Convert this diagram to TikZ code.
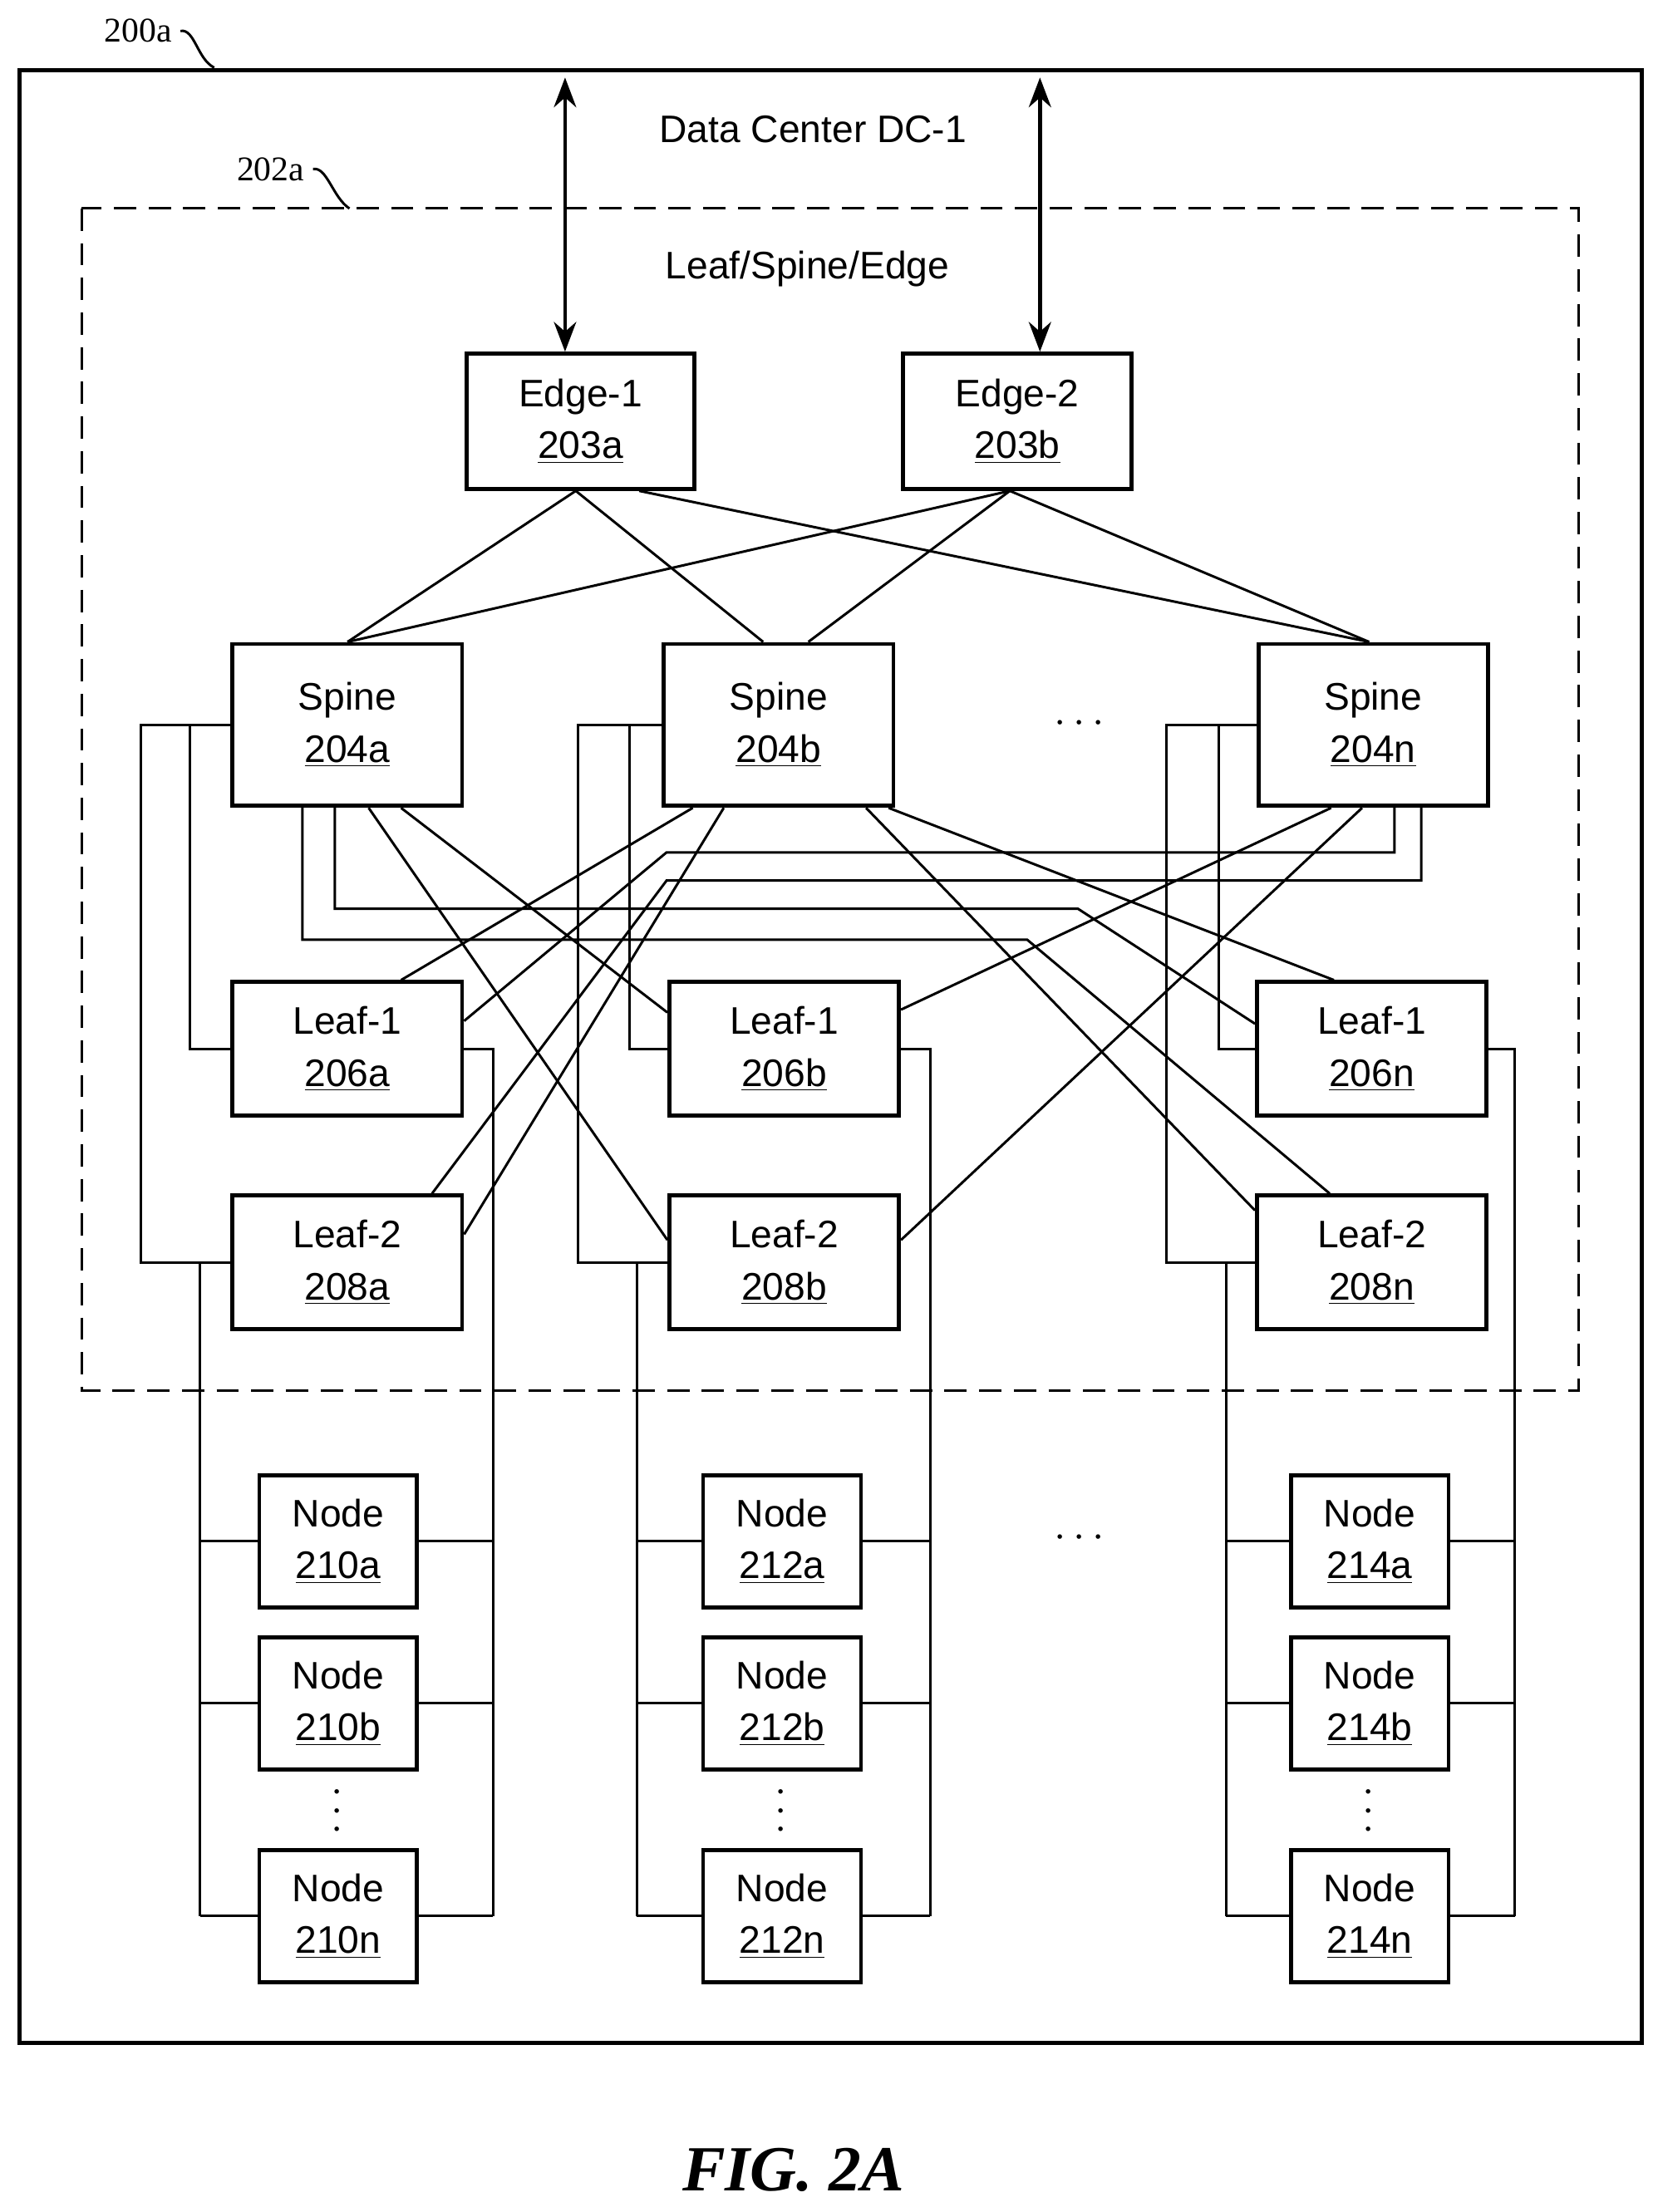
\documentclass[tikz,border=0pt]{standalone}
\usepackage{fontspec}
\setmainfont{Liberation Sans}
\newfontfamily\serifrm{Liberation Serif}
\usetikzlibrary{calc,arrows.meta}

\tikzset{
  box/.style={draw, line width=1.6pt, align=center, inner sep=0pt,
    font=\fontsize{15.5}{21}\selectfont},
  edgebox/.style={box, minimum width=3.24cm, minimum height=1.92cm},
  spinebox/.style={box, minimum width=3.26cm, minimum height=2.3cm},
  leafbox/.style={box, minimum width=3.26cm, minimum height=1.9cm},
  hostbox/.style={box, minimum width=2.24cm, minimum height=1.88cm},
  wire/.style={line width=1pt},
  refnum/.style={font=\serifrm\fontsize{14}{16}\selectfont}
}

\begin{document}
\begin{tikzpicture}[x=0.02cm,y=-0.02cm]
  \useasboundingbox (0,0) rectangle (1180,1570);

  % frames
  \draw[line width=1.6pt] (14,50) rectangle (1165,1450);
  \draw[line width=1pt, dash pattern=on 9pt off 5pt] (58,148) rectangle (1120,987);
  \node[refnum] (r200) at (98,22) {200a};
  \draw[wire] (r200.east) .. controls (138,20) and (140,42) .. (152,48);
  \node[refnum] (r202) at (192,120) {202a};
  \draw[wire] (r202.east) .. controls (232,118) and (236,140) .. (248,148);
  \node[font=\fontsize{15.5}{18}\selectfont] (dc) at (577,92) {Data Center DC-1};
  \node[font=\fontsize{15.5}{18}\selectfont] (lse) at (573,191) {Leaf/Spine/Edge};

  % edge and spine
  \node[edgebox] (e1) at (412,299) {Edge-1\\\underline{203a}};
  \node[edgebox] (e2) at (722,299) {Edge-2\\\underline{203b}};
  \node[spinebox] (sa) at (246.5,514.5) {Spine\\\underline{204a}};
  \node[spinebox] (sb) at (552.5,514.5) {Spine\\\underline{204b}};
  \node[spinebox] (sn) at (974.5,514.5) {Spine\\\underline{204n}};
  \node[font=\fontsize{16}{18}\selectfont] (sdots) at (766,514) {$\cdots$};

  % leaves
  \node[leafbox] (la) at (246.5,744.5) {Leaf-1\\\underline{206a}};
  \node[leafbox] (lb) at (556.5,744.5) {Leaf-1\\\underline{206b}};
  \node[leafbox] (ln) at (973.5,744.5) {Leaf-1\\\underline{206n}};
  \node[leafbox] (ma) at (246.5,896) {Leaf-2\\\underline{208a}};
  \node[leafbox] (mb) at (556.5,896) {Leaf-2\\\underline{208b}};
  \node[leafbox] (mn) at (973.5,896) {Leaf-2\\\underline{208n}};

  % hosts
  \foreach \grp/\xc in {210/240,212/555,214/972}{
    \node[hostbox] (h\grp a) at (\xc,1094) {Node\\\underline{\grp a}};
    \node[hostbox] (h\grp b) at (\xc,1209) {Node\\\underline{\grp b}};
    \node[hostbox] (h\grp n) at (\xc,1360) {Node\\\underline{\grp n}};
    \node[font=\fontsize{16}{18}\selectfont, rotate=90] (hd\grp) at (\xc,1285) {$\cdots$};
  }
  \node[font=\fontsize{16}{18}\selectfont] (hdots) at (766,1092) {$\cdots$};

  % uplinks
  \coordinate (u1) at (401,55);
  \coordinate (u2) at (738,55);
  \draw[wire, line width=1.6pt, {Stealth[length=12pt,width=9pt]}-{Stealth[length=12pt,width=9pt]}] (u1) -- (u1 |- e1.north);
  \draw[wire, line width=1.6pt, {Stealth[length=12pt,width=9pt]}-{Stealth[length=12pt,width=9pt]}] (u2) -- (u2 |- e2.north);

  % edge to spine
  \draw[wire] ($(e1.south west)+(79,0)$) -- ($(sa.north west)+(83,0)$);
  \draw[wire] ($(e1.south west)+(79,0)$) -- ($(sb.north west)+(72,0)$);
  \draw[wire] ($(e1.south west)+(124,0)$) -- ($(sn.north west)+(80,0)$);
  \draw[wire] ($(e2.south west)+(77,0)$) -- ($(sa.north west)+(83,0)$);
  \draw[wire] ($(e2.south west)+(77,0)$) -- ($(sb.north west)+(104,0)$);
  \draw[wire] ($(e2.south west)+(77,0)$) -- ($(sn.north west)+(80,0)$);

  % spine brackets to own leaves
  \foreach \s/\l/\m/\xo/\xi in {sa/la/ma/100/135, sb/lb/mb/410/447, sn/ln/mn/828/865}{
    \draw[wire] (\s.west) -- (\s.west -| \xo,0) |- (\m.west);
    \draw[wire] (\s.west -| \xi,0) |- (\l.west);
  }

  % spine a
  \draw[wire] ($(sa.south west)+(51,0)$) |- (729,667) -- ($(mn.north west)+(53,0)$);
  \draw[wire] ($(sa.south west)+(74,0)$) |- (765,645) -- ($(ln.north west)+(0,31)$);
  \draw[wire] ($(sa.south west)+(98,0)$) -- ($(mb.north west)+(0,33)$);
  \draw[wire] ($(sa.south west)+(121,0)$) -- ($(lb.north west)+(0,23)$);
  % spine b
  \draw[wire] ($(sb.south west)+(22,0)$) -- ($(la.north west)+(121,0)$);
  \draw[wire] ($(sb.south west)+(44,0)$) -- ($(ma.north east)+(0,29)$);
  \draw[wire] ($(sb.south west)+(145,0)$) -- ($(mn.north west)+(0,12)$);
  \draw[wire] ($(sb.south west)+(161,0)$) -- ($(ln.north west)+(56,0)$);
  % spine n
  \draw[wire] ($(sn.south west)+(53,0)$) -- ($(lb.north east)+(0,21)$);
  \draw[wire] ($(sn.south west)+(75,0)$) -- ($(mb.north east)+(0,33)$);
  \draw[wire] ($(sn.south west)+(98,0)$) |- (473,605) -- ($(la.north east)+(0,29)$);
  \draw[wire] ($(sn.south west)+(117,0)$) |- (473,625) -- ($(ma.north west)+(143,0)$);

  % leaf buses to hosts
  \foreach \l/\m/\g/\xl/\xr in {la/ma/210/142/350, lb/mb/212/452/660, ln/mn/214/870/1075}{
    \draw[wire] (\l.east) -| (\xr,1360);
    \draw[wire] (\xl,896) -- (\xl,1360);
    \foreach \h in {a,b,n}{
      \draw[wire] (h\g\h.west) -- (\xl,0 |- h\g\h.west);
      \draw[wire] (h\g\h.east) -- (\xr,0 |- h\g\h.east);
    }
  }

  \node[font=\serifrm\bfseries\itshape\fontsize{26}{30}\selectfont] (fig) at (563,1540) {FIG. 2A};
\end{tikzpicture}
\end{document}
